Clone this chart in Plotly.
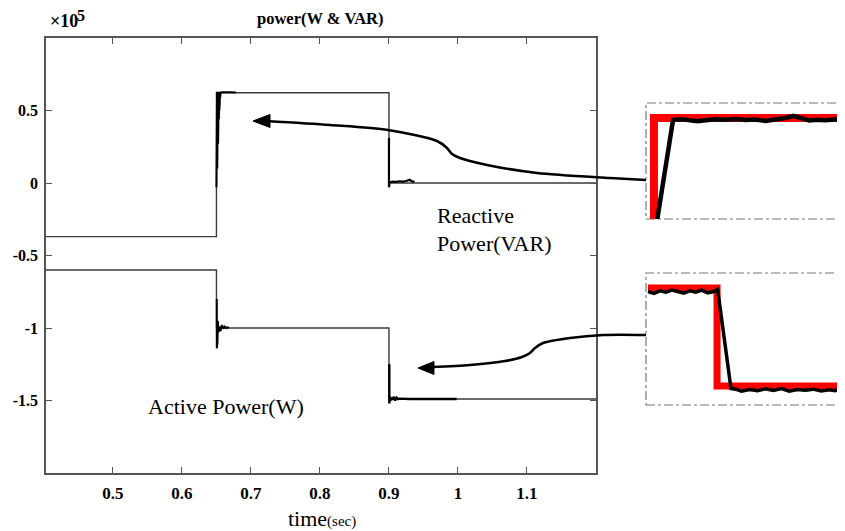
import plotly.graph_objects as go

# ---------------- data (values in units of 1e5) ----------------
# Reactive power (VAR)
q_time = [0.403, 0.650, 0.650, 0.900, 0.900, 1.200]
q_vals = [-0.37, -0.37, 0.622, 0.622, 0.0, 0.0]
# transient at 0.65 s (dense oscillation)
q_tr1_time = [0.6500, 0.6503, 0.6506, 0.6509, 0.6512, 0.6515, 0.6518, 0.6521, 0.6524, 0.6527,
              0.6530, 0.6533, 0.6536, 0.6539, 0.6542, 0.6545, 0.6548, 0.6551, 0.6554, 0.6560,
              0.6600, 0.6650, 0.6700, 0.6780]
q_tr1_vals = [-0.03, 0.63, 0.02, 0.63, 0.10, 0.63, 0.18, 0.63, 0.27, 0.63,
              0.36, 0.63, 0.44, 0.63, 0.50, 0.63, 0.55, 0.63, 0.59, 0.625,
              0.626, 0.624, 0.626, 0.625]
# transient at 0.9 s
q_tr2_time = [0.9000, 0.9000, 0.9010, 0.9050, 0.9100, 0.9150, 0.9200, 0.9250, 0.9280, 0.9300, 0.9330, 0.9370]
q_tr2_vals = [0.31, -0.03, 0.005, 0.01, 0.008, 0.012, 0.01, 0.014, 0.02, 0.022, 0.012, 0.008]

# Active power (W)
p_time = [0.403, 0.650, 0.650, 0.900, 0.900, 1.200]
p_vals = [-0.60, -0.60, -1.00, -1.00, -1.49, -1.49]
p_tr1_time = [0.6505, 0.6505, 0.6515, 0.6520, 0.6530, 0.6545, 0.6560, 0.6580, 0.6600, 0.6620, 0.6640, 0.6660, 0.6680]
p_tr1_vals = [-0.80, -1.14, -1.10, -0.95, -1.03, -0.99, -1.02, -0.98, -1.005, -0.99, -1.0, -0.995, -1.0]
p_tr2_time = [0.9005, 0.9005, 0.9012, 0.9020, 0.9035, 0.9050, 0.9070, 0.9090, 0.9110, 0.9130, 0.9150, 0.9300, 0.9600, 0.9980]
p_tr2_vals = [-1.25, -1.52, -1.47, -1.50, -1.48, -1.495, -1.475, -1.50, -1.48, -1.49, -1.487, -1.49, -1.488, -1.49]

x_tick_vals = [0.5, 0.6, 0.7, 0.8, 0.9, 1.0, 1.1]
x_tick_text = ["0.5", "0.6", "0.7", "0.8", "0.9", "1", "1.1"]
y_tick_vals = [-1.5, -1.0, -0.5, 0.0, 0.5]
y_tick_text = ["-1.5", "-1", "-0.5", "0", "0.5"]

# Zoom inset 1 (reactive power step), normalized 0-100
ins1_ref_x = [4.0, 4.0, 100.0]
ins1_ref_y = [-5.0, 87.0, 87.0]
ins1_meas_x = [5.5, 13.6, 18, 22, 26, 30, 35, 40, 45, 50, 55, 60, 65, 70, 74, 78, 82, 86, 90, 95, 100]
ins1_meas_y = [-2, 85.5, 86, 85.5, 84.3, 85.2, 86, 85.5, 86.2, 85.3, 85.8, 84.6, 85.5, 87, 89, 86.8, 85, 85.6, 85.2, 85.8, 85.5]

# Zoom inset 2 (active power step), normalized 0-100
ins2_ref_x = [1.0, 35.7, 35.7, 97.5]
ins2_ref_y = [88.6, 88.6, 14.4, 14.4]
ins2_meas_x = [1, 4, 7, 10, 13, 16, 19, 22, 25, 28, 31, 34, 36,
               42.7, 45, 48, 52, 56, 60, 64, 68, 72, 76, 80, 84, 88, 92, 95, 97.5]
ins2_meas_y = [86, 84.5, 86.5, 85.5, 87, 86, 84.8, 86.5, 85.5, 87, 85, 86, 87.5,
               12.5, 12, 10.5, 11.8, 10.8, 12.2, 11, 12.5, 10.5, 11.8, 11.2, 12, 10.6, 11.5, 10.8, 12.3]

# Curved pointer arrows (page pixel coordinates, overlay axis)
arrow1_x = [646, 610, 537, 487, 460, 452, 447, 437, 388, 330, 266]
arrow1_y = [180, 178, 173, 165, 158, 154, 148, 141, 130, 125, 121]
arrow2_x = [646, 603, 570, 543, 535, 530, 522, 505, 470, 432]
arrow2_y = [335, 335, 338, 343, 348, 353, 357, 361, 365, 367]

# ---------------- figure ----------------
# the page body has an 8px margin, so the figure starts at page (8, 8)
OFF = 8
PAGE_W, PAGE_H = 845, 531
W, H = PAGE_W - OFF, PAGE_H - OFF
PL, PT, PB = 46, 38, 473          # plot area edges in page pixels
ML, MR, MT, MB = PL - OFF, 0, PT - OFF, PAGE_H - PB
PW, PH = W - ML - MR, H - MT - MB


def xd(px):
    return (px - PL) / PW


def yd(py):
    return (PB - py) / PH


SERIF = "Liberation Serif, Times New Roman, serif"
LINE = "#3a3a3a"

fig = go.Figure()

# main traces
fig.add_trace(go.Scatter(x=q_time, y=q_vals, mode="lines", line=dict(color=LINE, width=1.4)))
fig.add_trace(go.Scatter(x=p_time, y=p_vals, mode="lines", line=dict(color=LINE, width=1.4)))
fig.add_trace(go.Scatter(x=q_tr1_time, y=q_tr1_vals, mode="lines", line=dict(color="black", width=2)))
fig.add_trace(go.Scatter(x=q_tr2_time, y=q_tr2_vals, mode="lines", line=dict(color="black", width=2.2)))
fig.add_trace(go.Scatter(x=p_tr1_time, y=p_tr1_vals, mode="lines", line=dict(color="black", width=2)))
fig.add_trace(go.Scatter(x=p_tr2_time, y=p_tr2_vals, mode="lines", line=dict(color="black", width=2.4)))

# insets
fig.add_trace(go.Scatter(x=ins1_ref_x, y=ins1_ref_y, mode="lines", xaxis="x2", yaxis="y2",
                         line=dict(color="#ff0000", width=8)))
fig.add_trace(go.Scatter(x=ins1_meas_x, y=ins1_meas_y, mode="lines", xaxis="x2", yaxis="y2",
                         line=dict(color="black", width=4.5)))
fig.add_trace(go.Scatter(x=ins2_ref_x, y=ins2_ref_y, mode="lines", xaxis="x3", yaxis="y3",
                         line=dict(color="#ff0000", width=7)))
fig.add_trace(go.Scatter(x=ins2_meas_x, y=ins2_meas_y, mode="lines", xaxis="x3", yaxis="y3",
                         line=dict(color="black", width=3.5)))

# arrows
fig.add_trace(go.Scatter(x=arrow1_x, y=arrow1_y, mode="lines", xaxis="x4", yaxis="y4",
                         line=dict(color="black", width=2.6, shape="spline", smoothing=0.8)))
fig.add_trace(go.Scatter(x=arrow2_x, y=arrow2_y, mode="lines", xaxis="x4", yaxis="y4",
                         line=dict(color="black", width=2.6, shape="spline", smoothing=0.8)))

axis_common = dict(showgrid=False, zeroline=False, showline=True, linecolor="#555555", linewidth=1.5,
                   mirror="ticks", ticks="inside", ticklen=6, tickwidth=1.3, tickcolor="#555555")

fig.update_layout(
    width=W, height=H,
    margin=dict(l=ML, r=MR, t=MT, b=MB),
    paper_bgcolor="white", plot_bgcolor="rgba(0,0,0,0)",
    showlegend=False,
    xaxis=dict(domain=[0, xd(596)], range=[0.403, 1.2], tickvals=x_tick_vals, ticktext=x_tick_text,
               anchor="y", ticklabelstandoff=4,
               tickfont=dict(family=SERIF, size=17, color="black", weight="bold"), **axis_common),
    yaxis=dict(domain=[0, 1], range=[-2.0, 1.0], tickvals=y_tick_vals, ticktext=y_tick_text,
               anchor="x", ticklabelstandoff=3,
               tickfont=dict(family=SERIF, size=16, color="black", weight="bold"), **axis_common),
    xaxis2=dict(domain=[xd(646), 1.0], range=[0, 100], visible=False, anchor="y2"),
    yaxis2=dict(domain=[yd(219), yd(103)], range=[0, 100], visible=False, anchor="x2"),
    xaxis3=dict(domain=[xd(646), 1.0], range=[0, 100], visible=False, anchor="y3"),
    yaxis3=dict(domain=[yd(405), yd(273)], range=[0, 100], visible=False, anchor="x3"),
    xaxis4=dict(domain=[0, 1], range=[PL, PAGE_W], visible=False, anchor="y4"),
    yaxis4=dict(domain=[0, 1], range=[PB, PT], visible=False, anchor="x4"),
)

# inset borders (dash-dot)
for xr, yr in (("x2 domain", "y2 domain"), ("x3 domain", "y3 domain")):
    fig.add_shape(type="rect", xref=xr, yref=yr, x0=0, x1=1.0, y0=0, y1=1,
                  line=dict(color="#777777", width=1.2, dash="dashdot"), layer="below")

# arrow heads
fig.add_shape(type="path", xref="x4", yref="y4",
              path="M 253 121 L 270 114.5 L 270 127.5 Z", fillcolor="black", line=dict(color="black", width=1))
fig.add_shape(type="path", xref="x4", yref="y4",
              path="M 418 368 L 434 361.5 L 434 374.5 Z", fillcolor="black", line=dict(color="black", width=1))

# texts
def label(x, y, text, size, xanchor="center"):
    fig.add_annotation(xref="paper", yref="paper", x=xd(x), y=yd(y), xanchor=xanchor, yanchor="middle",
                       text=text, showarrow=False, font=dict(family=SERIF, size=size, color="black"))


label(320, 18, "<b>power(W &amp; VAR)</b>", 16.5)
label(48, 21, "<b>×10</b>", 18, "left")
label(75, 15, "<b>5</b>", 16, "left")
label(286, 518, "time<span style='font-size:15px'>(sec)</span>", 22, "left")
label(435, 215, "Reactive", 22, "left")
label(435, 243, "Power(VAR)", 22, "left")
label(146, 406, "Active Power(W)", 22, "left")

fig.write_html("out.html")
